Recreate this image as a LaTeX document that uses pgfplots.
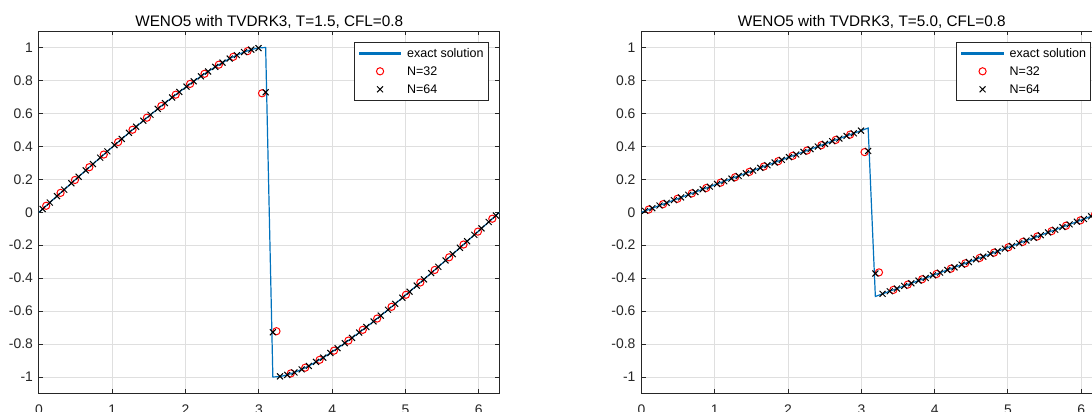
\documentclass[border=0pt]{standalone}
\usepackage{fontspec}
\setmainfont{Liberation Sans}
\usepackage{pgfplots}
\pgfplotsset{compat=1.18}
\usepackage{pgfplotstable}

\definecolor{mblue}{RGB}{0,114,189}
\definecolor{axgray}{RGB}{38,38,38}
\definecolor{gridgray}{RGB}{223,223,223}

% T = 1.5
\pgfplotstableread{
x u
0 0
0.0491 0.0196
0.1473 0.0589
0.2454 0.0980
0.3436 0.1372
0.4418 0.1763
0.5400 0.2153
0.6381 0.2540
0.7363 0.2927
0.8345 0.3311
0.9327 0.3693
1.0308 0.4073
1.1290 0.4449
1.2272 0.4824
1.3254 0.5192
1.4235 0.5558
1.5217 0.5917
1.6199 0.6274
1.7181 0.6623
1.8162 0.6965
1.9144 0.7301
2.0126 0.7626
2.1108 0.7944
2.2089 0.8249
2.3071 0.8543
2.4053 0.8822
2.5035 0.9081
2.6016 0.9328
2.6998 0.9538
2.7980 0.9722
2.8962 0.9873
2.9943 0.9973
3.0925 0.9998
3.1907 -0.9998
3.2889 -0.9973
3.3870 -0.9873
3.4852 -0.9722
3.5834 -0.9538
3.6816 -0.9328
3.7797 -0.9081
3.8779 -0.8822
3.9761 -0.8543
4.0743 -0.8249
4.1724 -0.7944
4.2706 -0.7626
4.3688 -0.7301
4.4670 -0.6965
4.5651 -0.6623
4.6633 -0.6274
4.7615 -0.5917
4.8597 -0.5558
4.9578 -0.5192
5.0560 -0.4824
5.1542 -0.4449
5.2524 -0.4073
5.3505 -0.3693
5.4487 -0.3311
5.5469 -0.2927
5.6451 -0.2540
5.7432 -0.2153
5.8414 -0.1763
5.9396 -0.1372
6.0378 -0.0980
6.1359 -0.0589
6.2341 -0.0196
6.2832 0
}\exactA

\pgfplotstableread{
x u
0.0982 0.0393
0.2945 0.1176
0.4909 0.1959
0.6872 0.2734
0.8836 0.3502
1.0799 0.4261
1.2763 0.5008
1.4726 0.5739
1.6690 0.6451
1.8653 0.7136
2.0617 0.7789
2.2580 0.8402
2.4544 0.8957
2.6507 0.9433
2.8471 0.9780
3.0434 0.7220
3.2398 -0.7220
3.4361 -0.9780
3.6325 -0.9433
3.8288 -0.8957
4.0252 -0.8402
4.2215 -0.7789
4.4179 -0.7136
4.6142 -0.6451
4.8106 -0.5739
5.0069 -0.5008
5.2033 -0.4261
5.3996 -0.3502
5.5960 -0.2734
5.7923 -0.1959
5.9887 -0.1176
6.1850 -0.0393
}\numAa

\pgfplotstableread{
x u
0.0491 0.0196
0.1473 0.0589
0.2454 0.0980
0.3436 0.1372
0.4418 0.1763
0.5400 0.2153
0.6381 0.2540
0.7363 0.2927
0.8345 0.3311
0.9327 0.3693
1.0308 0.4073
1.1290 0.4449
1.2272 0.4824
1.3254 0.5192
1.4235 0.5558
1.5217 0.5917
1.6199 0.6274
1.7181 0.6623
1.8162 0.6965
1.9144 0.7301
2.0126 0.7626
2.1108 0.7944
2.2089 0.8249
2.3071 0.8543
2.4053 0.8822
2.5035 0.9081
2.6016 0.9328
2.6998 0.9538
2.7980 0.9722
2.8962 0.9873
2.9943 0.9960
3.0925 0.7280
3.1907 -0.7280
3.2889 -0.9960
3.3870 -0.9873
3.4852 -0.9722
3.5834 -0.9538
3.6816 -0.9328
3.7797 -0.9081
3.8779 -0.8822
3.9761 -0.8543
4.0743 -0.8249
4.1724 -0.7944
4.2706 -0.7626
4.3688 -0.7301
4.4670 -0.6965
4.5651 -0.6623
4.6633 -0.6274
4.7615 -0.5917
4.8597 -0.5558
4.9578 -0.5192
5.0560 -0.4824
5.1542 -0.4449
5.2524 -0.4073
5.3505 -0.3693
5.4487 -0.3311
5.5469 -0.2927
5.6451 -0.2540
5.7432 -0.2153
5.8414 -0.1763
5.9396 -0.1372
6.0378 -0.0980
6.1359 -0.0589
6.2341 -0.0196
}\numAb

% T = 5.0
\pgfplotstableread{
x u
0 0
0.0491 0.0082
0.1473 0.0245
0.2454 0.0409
0.3436 0.0572
0.4418 0.0736
0.5400 0.0900
0.6381 0.1063
0.7363 0.1227
0.8345 0.1390
0.9327 0.1553
1.0308 0.1716
1.1290 0.1880
1.2272 0.2043
1.3254 0.2206
1.4235 0.2368
1.5217 0.2531
1.6199 0.2694
1.7181 0.2856
1.8162 0.3018
1.9144 0.3181
2.0126 0.3343
2.1108 0.3505
2.2089 0.3666
2.3071 0.3828
2.4053 0.3989
2.5035 0.4150
2.6016 0.4311
2.6998 0.4471
2.7980 0.4632
2.8962 0.4792
2.9943 0.4952
3.0925 0.5111
3.1907 -0.5111
3.2889 -0.4952
3.3870 -0.4792
3.4852 -0.4632
3.5834 -0.4471
3.6816 -0.4311
3.7797 -0.4150
3.8779 -0.3989
3.9761 -0.3828
4.0743 -0.3666
4.1724 -0.3505
4.2706 -0.3343
4.3688 -0.3181
4.4670 -0.3018
4.5651 -0.2856
4.6633 -0.2694
4.7615 -0.2531
4.8597 -0.2368
4.9578 -0.2206
5.0560 -0.2043
5.1542 -0.1880
5.2524 -0.1716
5.3505 -0.1553
5.4487 -0.1390
5.5469 -0.1227
5.6451 -0.1063
5.7432 -0.0900
5.8414 -0.0736
5.9396 -0.0572
6.0378 -0.0409
6.1359 -0.0245
6.2341 -0.0082
6.2832 0
}\exactB

\pgfplotstableread{
x u
0.0982 0.0164
0.2945 0.0491
0.4909 0.0818
0.6872 0.1145
0.8836 0.1472
1.0799 0.1798
1.2763 0.2124
1.4726 0.2450
1.6690 0.2775
1.8653 0.3099
2.0617 0.3424
2.2580 0.3747
2.4544 0.4069
2.6507 0.4391
2.8471 0.4712
3.0434 0.3650
3.2398 -0.3650
3.4361 -0.4712
3.6325 -0.4391
3.8288 -0.4069
4.0252 -0.3747
4.2215 -0.3424
4.4179 -0.3099
4.6142 -0.2775
4.8106 -0.2450
5.0069 -0.2124
5.2033 -0.1798
5.3996 -0.1472
5.5960 -0.1145
5.7923 -0.0818
5.9887 -0.0491
6.1850 -0.0164
}\numBa

\pgfplotstableread{
x u
0.0491 0.0082
0.1473 0.0245
0.2454 0.0409
0.3436 0.0572
0.4418 0.0736
0.5400 0.0900
0.6381 0.1063
0.7363 0.1227
0.8345 0.1390
0.9327 0.1553
1.0308 0.1716
1.1290 0.1880
1.2272 0.2043
1.3254 0.2206
1.4235 0.2368
1.5217 0.2531
1.6199 0.2694
1.7181 0.2856
1.8162 0.3018
1.9144 0.3181
2.0126 0.3343
2.1108 0.3505
2.2089 0.3666
2.3071 0.3828
2.4053 0.3989
2.5035 0.4150
2.6016 0.4311
2.6998 0.4471
2.7980 0.4632
2.8962 0.4792
2.9943 0.4952
3.0925 0.3720
3.1907 -0.3720
3.2889 -0.4952
3.3870 -0.4792
3.4852 -0.4632
3.5834 -0.4471
3.6816 -0.4311
3.7797 -0.4150
3.8779 -0.3989
3.9761 -0.3828
4.0743 -0.3666
4.1724 -0.3505
4.2706 -0.3343
4.3688 -0.3181
4.4670 -0.3018
4.5651 -0.2856
4.6633 -0.2694
4.7615 -0.2531
4.8597 -0.2368
4.9578 -0.2206
5.0560 -0.2043
5.1542 -0.1880
5.2524 -0.1716
5.3505 -0.1553
5.4487 -0.1390
5.5469 -0.1227
5.6451 -0.1063
5.7432 -0.0900
5.8414 -0.0736
5.9396 -0.0572
6.0378 -0.0409
6.1359 -0.0245
6.2341 -0.0082
}\numBb

\pgfplotsset{
  matstyle/.style={
    scale only axis, width=230.25pt, height=181.25pt,
    anchor=south west,
    xmin=0, xmax=6.2832, ymin=-1.1, ymax=1.1,
    xtick={0,1,2,3,4,5,6}, xticklabels={0,1,2,3,4,5,6},
    ytick={-1,-0.8,-0.6,-0.4,-0.2,0,0.2,0.4,0.6,0.8,1},
    yticklabels={-1,-0.8,-0.6,-0.4,-0.2,0,0.2,0.4,0.6,0.8,1},
    tick align=inside, major tick length=2.2pt, tick pos=both,
    grid=major, major grid style={gridgray, line width=0.5pt},
    axis line style={axgray, line width=0.5pt},
    every tick/.style={axgray, line width=0.5pt},
    tick label style={font=\fontsize{6.95}{8}\selectfont, text=axgray},
    yticklabel style={anchor=east, inner sep=0pt, xshift=-2.85pt},
    xticklabel style={anchor=north, inner sep=0pt, yshift=-5.3pt},
    title style={at={(0.5,1)}, anchor=base, inner sep=0pt, yshift=-3.5pt,
      font=\fontsize{7.65}{9}\selectfont, text=black},
    legend cell align=left,
    legend image code/.code={\draw[mark repeat=2,mark phase=2,##1]
      plot coordinates {(0pt,0pt) (10.4pt,0pt) (20.8pt,0pt)};},
    legend style={at={(1,1)}, anchor=north east, xshift=-5.5pt, yshift=-5.65pt,
      draw=axgray, fill=white,
      inner xsep=2.25pt, inner ysep=0.8pt,
      font=\fontsize{6.25}{7.5}\selectfont,
      nodes={inner sep=0pt, text height=6.75pt, text depth=2.25pt},
      /tikz/every odd column/.append style={column sep=2.85pt},
      row sep=0pt},
  },
}

\begin{document}
\begin{tikzpicture}
\begin{axis}[matstyle, at={(19.5pt,9.25pt)},
  title={WENO5 with TVDRK3, T=1.5, CFL=0.8}]
\addplot[color=mblue, line width=0.6pt, mark=none,
  legend image code/.code={\fill[fill=mblue!75!white] (0pt,-0.32pt) rectangle (20.8pt,0.32pt);}]
  table[x=x,y=u] {\exactA};
\addlegendentry{exact solution}
\addplot[color=red, only marks, mark=o, mark size=1.8pt, mark options={line width=0.5pt}] table[x=x,y=u] {\numAa};
\addlegendentry{N=32}
\addplot[color=black, only marks, mark=x, mark size=2.1pt, mark options={line width=0.5pt}] table[x=x,y=u] {\numAb};
\addlegendentry{N=64}
\end{axis}
\begin{axis}[matstyle, at={(320.75pt,9.25pt)},
  title={WENO5 with TVDRK3, T=5.0, CFL=0.8}]
\addplot[color=mblue, line width=0.6pt, mark=none,
  legend image code/.code={\fill[fill=mblue!75!white] (0pt,-0.32pt) rectangle (20.8pt,0.32pt);}]
  table[x=x,y=u] {\exactB};
\addlegendentry{exact solution}
\addplot[color=red, only marks, mark=o, mark size=1.8pt, mark options={line width=0.5pt}] table[x=x,y=u] {\numBa};
\addlegendentry{N=32}
\addplot[color=black, only marks, mark=x, mark size=2.1pt, mark options={line width=0.5pt}] table[x=x,y=u] {\numBb};
\addlegendentry{N=64}
\end{axis}
\pgfresetboundingbox
\useasboundingbox (0,0) rectangle (546pt,206pt);
\end{tikzpicture}
\end{document}
